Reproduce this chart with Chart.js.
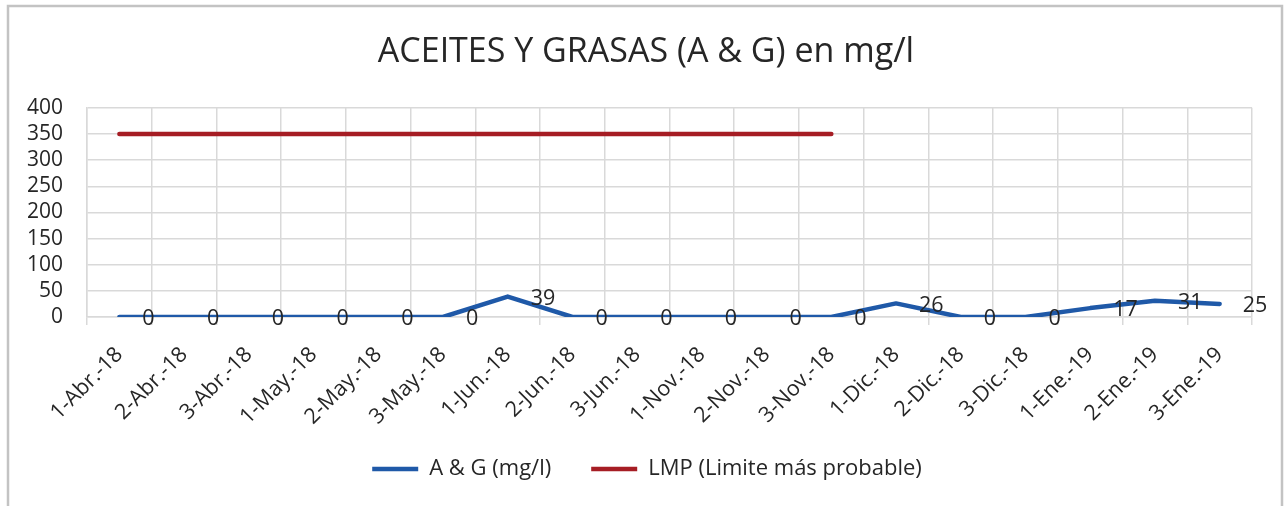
<!DOCTYPE html>
<html>
<head>
<meta charset="utf-8">
<script src="https://cdn.jsdelivr.net/npm/chart.js@4.4.1/dist/chart.umd.min.js"></script>
<style>
  html, body { margin: 0; padding: 0; background: #ffffff; }
  #wrap { width: 1284px; height: 506px; position: relative; }
</style>
</head>
<body>
<div id="wrap"><canvas id="c" width="1284" height="506"></canvas></div>
<script>
const categories = ["1-Abr.-18", "2-Abr.-18", "3-Abr.-18", "1-May.-18", "2-May.-18", "3-May.-18",
  "1-Jun.-18", "2-Jun.-18", "3-Jun.-18", "1-Nov.-18", "2-Nov.-18", "3-Nov.-18",
  "1-Dic.-18", "2-Dic.-18", "3-Dic.-18", "1-Ene.-19", "2-Ene.-19", "3-Ene.-19"];
const agValues = [0, 0, 0, 0, 0, 0, 39, 0, 0, 0, 0, 0, 26, 0, 0, 17, 31, 25];
const lmpValues = [350, 350, 350, 350, 350, 350, 350, 350, 350, 350, 350, 350, null, null, null, null, null, null];
const yTicks = [0, 50, 100, 150, 200, 250, 300, 350, 400];
const seriesNames = ["A & G (mg/l)", "LMP (Limite más probable)"];
const titleText = "ACEITES Y GRASAS (A & G) en mg/l";

const FONT = "'Open Sans', 'Noto Sans', sans-serif";
const TEXT = "#262626";
const BLUE = "#1f59a8";
const RED = "#a61d24";
const GRID = "#d9d9d9";

const frame = {
  id: 'frame',
  beforeDraw(chart) {
    const ctx = chart.ctx;
    ctx.save();
    ctx.fillStyle = '#ffffff';
    ctx.fillRect(0, 0, chart.width, chart.height);
    ctx.strokeStyle = '#c3c3c3';
    ctx.lineWidth = 2.5;
    ctx.strokeRect(8, 6, 1274, 520);
    ctx.restore();
  },
  afterLayout(chart) {
    if (chart.legend) {
      chart.legend.left += 16;
      chart.legend.right += 16;
      chart.legend.top -= 9;
      chart.legend.bottom -= 9;
    }
    if (chart.titleBlock) {
      chart.titleBlock.left += 15;
      chart.titleBlock.right += 15;
    }
  }
};

const valueLabels = {
  id: 'valueLabels',
  afterDatasetsDraw(chart) {
    const ctx = chart.ctx;
    const meta = chart.getDatasetMeta(0);
    ctx.save();
    ctx.font = "21.5px " + FONT;
    ctx.fillStyle = TEXT;
    ctx.textAlign = 'left';
    ctx.textBaseline = 'middle';
    meta.data.forEach((pt, i) => {
      const v = agValues[i];
      ctx.fillText(String(v), pt.x + 23, pt.y + 2);
    });
    ctx.restore();
  }
};

new Chart(document.getElementById('c'), {
  type: 'line',
  data: {
    labels: categories,
    datasets: [
      {
        label: seriesNames[0],
        data: agValues,
        borderColor: BLUE,
        backgroundColor: BLUE,
        borderWidth: 4.5,
        pointRadius: 0,
        tension: 0,
        borderCapStyle: 'round',
        borderJoinStyle: 'round',
        fill: false
      },
      {
        label: seriesNames[1],
        data: lmpValues,
        borderColor: RED,
        backgroundColor: RED,
        borderWidth: 4.5,
        pointRadius: 0,
        tension: 0,
        borderCapStyle: 'round',
        spanGaps: false,
        fill: false
      }
    ]
  },
  options: {
    responsive: false,
    animation: false,
    events: [],
    layout: { padding: { left: 10, right: 32, top: 0, bottom: 7 } },
    plugins: {
      title: {
        display: true,
        text: titleText,
        color: TEXT,
        font: { family: FONT, size: 34, weight: 'normal', lineHeight: 1.2 },
        padding: { top: 32, bottom: 35 }
      },
      legend: {
        display: true,
        position: 'bottom',
        labels: {
          color: TEXT,
          font: { family: FONT, size: 22, lineHeight: 1.2 },
          usePointStyle: true,
          pointStyle: 'line',
          pointStyleWidth: 46,
          boxHeight: 20,
          padding: 40
        }
      },
      tooltip: { enabled: false }
    },
    scales: {
      x: {
        offset: true,
        grid: { offset: true, color: GRID, lineWidth: 1.5, drawTicks: true, tickLength: 8, tickColor: GRID },
        border: { color: GRID, width: 1.5 },
        ticks: {
          color: TEXT,
          font: { family: FONT, size: 21.5 },
          maxRotation: 45,
          minRotation: 45,
          autoSkip: false,
          padding: 17
        },
        afterFit(scale) { scale.height = 110; }
      },
      y: {
        min: 0,
        max: 400,
        afterBuildTicks(scale) { scale.ticks = yTicks.map(v => ({ value: v })); },
        grid: { color: GRID, lineWidth: 1.5, drawTicks: false },
        border: { color: GRID, width: 1.5 },
        ticks: {
          color: TEXT,
          font: { family: FONT, size: 21 },
          padding: 24,
          autoSkip: false
        },
        afterFit(scale) { scale.width = 77; }
      }
    }
  },
  plugins: [frame, valueLabels]
});
</script>
</body>
</html>
